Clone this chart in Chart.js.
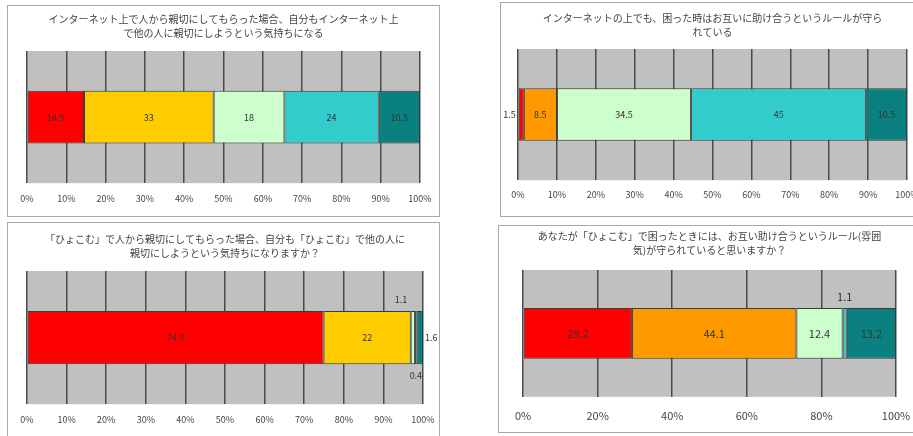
<!DOCTYPE html>
<html>
<head>
<meta charset="utf-8">
<script src="https://cdn.jsdelivr.net/npm/chart.js@4.4.0/dist/chart.umd.min.js"></script>
<style>
html, body { margin: 0; padding: 0; overflow: hidden; }
body { width: 913px; height: 436px; position: relative; background: #fff; font-family: "Noto Sans CJK JP", sans-serif; }
.box { position: absolute; border: 1px solid #a8a8a8; background: #fff; box-sizing: border-box; }
.box canvas { position: absolute; left: 0; top: 0; }
</style>
</head>
<body>
<div class="box" style="left:7px;top:5px;width:433px;height:212px"><canvas id="c1" width="431" height="210"></canvas></div>
<div class="box" style="left:500px;top:2px;width:420px;height:215px"><canvas id="c2" width="418" height="213"></canvas></div>
<div class="box" style="left:7px;top:222px;width:433px;height:222px"><canvas id="c3" width="431" height="214"></canvas></div>
<div class="box" style="left:498px;top:225px;width:420px;height:208px"><canvas id="c4" width="418" height="206"></canvas></div>
<script>
// one row per chart, five answer groups stacked to 100%
const titles1 = ["インターネット上で人から親切にしてもらった場合、自分もインターネット上", "で他の人に親切にしようという気持ちになる"];
const titles2 = ["インターネットの上でも、困った時はお互いに助け合うというルールが守ら", "れている"];
const titles3 = ["「ひょこむ」で人から親切にしてもらった場合、自分も「ひょこむ」で他の人に", "親切にしようという気持ちになりますか？"];
const titles4 = ["あなたが「ひょこむ」で困ったときには、お互い助け合うというルール(雰囲", "気)が守られていると思いますか？"];

const values1 = [14.5, 33, 18, 24, 10.5];
const values2 = [1.5, 8.5, 34.5, 45, 10.5];
const values3 = [74.9, 22, 1.1, 0.4, 1.6];
const values4 = [29.2, 44.1, 12.4, 1.1, 13.2];

const colors1 = ["#ff0000", "#ffcc00", "#ccffcc", "#33cccc", "#0a8080"];
const colors2 = ["#ff0000", "#ff9900", "#ccffcc", "#33cccc", "#0a8080"];

const tickStep1 = 10;
const tickStep4 = 20;

// where each value label goes
const place1 = ["in", "in", "in", "in", "in"];
const place2 = ["left", "in", "in", "in", "in"];
const place3 = ["in", "in", "above", "below", "right"];
const place4 = ["in", "in", "in", "above", "in"];

const plotBg = {
    id: "plotBg",
    beforeDraw(chart) {
        const a = chart.chartArea;
        chart.ctx.save();
        chart.ctx.fillStyle = "#c0c0c0";
        chart.ctx.fillRect(a.left, a.top, a.right - a.left, a.bottom - a.top);
        chart.ctx.restore();
    }
};

const barLabels = {
    id: "barLabels",
    afterDatasetsDraw(chart, args, opts) {
        const ctx = chart.ctx;
        ctx.save();
        ctx.font = opts.size + "px 'Noto Sans CJK JP', sans-serif";
        ctx.fillStyle = "#333";
        ctx.textBaseline = "middle";
        chart.data.datasets.forEach((ds, i) => {
            const el = chart.getDatasetMeta(i).data[0];
            const pos = opts.place[i];
            const half = el.height / 2;
            let x = (el.x + el.base) / 2, y = el.y;
            ctx.textAlign = "center";
            if (pos === "above") { y = el.y - half - opts.gap; x -= opts.shift; }
            else if (pos === "below") y = el.y + half + opts.gap;
            else if (pos === "left") { x = el.base - 3; ctx.textAlign = "right"; }
            else if (pos === "right") { x = el.x + 2; ctx.textAlign = "left"; }
            ctx.fillText(String(ds.data[0]), x, y);
        });
        ctx.restore();
    }
};

function makeChart(id, titles, values, colors, step, place, pad, titlePad, tickSize, labelSize, tickPad, shift) {
    return new Chart(document.getElementById(id), {
        type: "bar",
        data: {
            labels: [""],
            datasets: values.map((v, i) => ({
                data: [v],
                backgroundColor: colors[i],
                borderColor: "#3a3a3a",
                borderWidth: 1,
                borderSkipped: false,
                barPercentage: 0.4,
                categoryPercentage: 1
            }))
        },
        options: {
            indexAxis: "y",
            responsive: false,
            animation: false,
            layout: { padding: pad },
            scales: {
                x: {
                    stacked: true,
                    min: 0,
                    max: 100,
                    // let the end labels hang past the plot edges
                    afterFit: s => { s.paddingLeft = 0; s.paddingRight = 0; },
                    grid: { color: "#4a4a4a", lineWidth: 1.5, drawTicks: false },
                    border: { display: false },
                    ticks: {
                        stepSize: step,
                        padding: tickPad,
                        color: "#444",
                        font: { size: tickSize, family: "'Noto Sans CJK JP', sans-serif" },
                        callback: v => v + "%"
                    }
                },
                y: { stacked: true, display: false }
            },
            plugins: {
                legend: { display: false },
                tooltip: { enabled: false },
                title: {
                    display: true,
                    text: titles,
                    color: "#444",
                    padding: titlePad,
                    font: { size: 10, weight: "normal", lineHeight: 1.4, family: "'Noto Sans CJK JP', sans-serif" }
                },
                barLabels: { place: place, size: labelSize, gap: 11, shift: shift }
            }
        },
        plugins: [plotBg, barLabels]
    });
}

makeChart("c1", titles1, values1, colors1, tickStep1, place1, { left: 19, right: 19, top: 0, bottom: 2 }, { top: 6, bottom: 11 }, 9, 9, 10, 0);
makeChart("c2", titles2, values2, colors2, tickStep1, place2, { left: 17, right: 12, top: 0, bottom: 7 }, { top: 8, bottom: 10 }, 9, 9, 9, 0);
makeChart("c3", titles3, values3, colors1, tickStep1, place3, { left: 19, right: 16, top: 0, bottom: 2 }, { top: 9, bottom: 11 }, 9, 9, 10, 12);
makeChart("c4", titles4, values4, colors2, tickStep4, place4, { left: 24, right: 21, top: 0, bottom: -2 }, { top: 3, bottom: 13 }, 11, 11, 12, 0);
</script>
</body>
</html>
